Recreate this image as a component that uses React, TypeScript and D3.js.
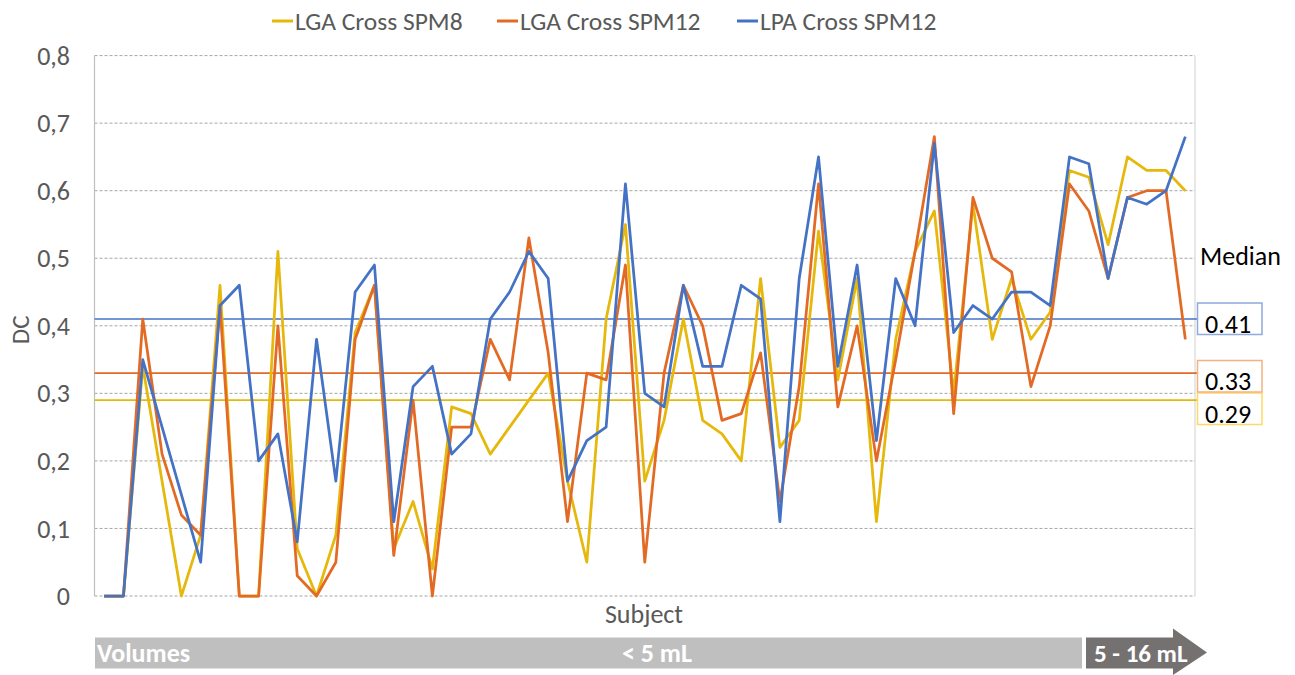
import React from "react";
import * as d3 from "d3";

const subjects: number[] = d3.range(57);
const seriesNames = ["LGA Cross SPM8", "LGA Cross SPM12", "LPA Cross SPM12"];
const seriesColors = ["#E5B80B", "#E36A24", "#4472C4"];
const boxColors = ["#FFD966", "#F4B183", "#8EA9DB"];

const lgaSpm8: number[] = [
  0, 0, 0.34, 0.17, 0, 0.09, 0.46, 0, 0, 0.51, 0.07, 0, 0.09, 0.39, 0.46, 0.07, 0.14, 0.04, 0.28, 0.27,
  0.21, 0.25, 0.29, 0.33, 0.17, 0.05, 0.41, 0.55, 0.17, 0.26, 0.41, 0.26, 0.24, 0.2, 0.47, 0.22, 0.26, 0.54,
  0.32, 0.47, 0.11, 0.38, 0.51, 0.57, 0.3, 0.58, 0.38, 0.47, 0.38, 0.42, 0.63, 0.62, 0.52, 0.65, 0.63, 0.63, 0.6,
];
const lgaSpm12: number[] = [
  0, 0, 0.41, 0.21, 0.12, 0.09, 0.43, 0, 0, 0.4, 0.03, 0, 0.05, 0.38, 0.46, 0.06, 0.29, 0, 0.25, 0.25,
  0.38, 0.32, 0.53, 0.36, 0.11, 0.33, 0.32, 0.49, 0.05, 0.33, 0.46, 0.4, 0.26, 0.27, 0.36, 0.14, 0.31, 0.61,
  0.28, 0.4, 0.2, 0.35, 0.51, 0.68, 0.27, 0.59, 0.5, 0.48, 0.31, 0.4, 0.61, 0.57, 0.47, 0.59, 0.6, 0.6, 0.38,
];
const lpaSpm12: number[] = [
  0, 0, 0.35, 0.25, 0.15, 0.05, 0.43, 0.46, 0.2, 0.24, 0.08, 0.38, 0.17, 0.45, 0.49, 0.11, 0.31, 0.34, 0.21, 0.24,
  0.41, 0.45, 0.51, 0.47, 0.17, 0.23, 0.25, 0.61, 0.3, 0.28, 0.46, 0.34, 0.34, 0.46, 0.44, 0.11, 0.47, 0.65,
  0.34, 0.49, 0.23, 0.47, 0.4, 0.67, 0.39, 0.43, 0.41, 0.45, 0.45, 0.43, 0.65, 0.64, 0.47, 0.59, 0.58, 0.6, 0.68,
];
const medians: number[] = [0.29, 0.33, 0.41];
const medianLabels = ["0.29", "0.33", "0.41"];
const yTicks: number[] = [0, 0.1, 0.2, 0.3, 0.4, 0.5, 0.6, 0.7, 0.8];
const yTickLabels = ["0", "0,1", "0,2", "0,3", "0,4", "0,5", "0,6", "0,7", "0,8"];

const FONT = "Carlito, Calibri, Lato, 'Open Sans', sans-serif";

export default function App() {
  const W = 1295;
  const H = 675;
  const left = 94.5;
  const right = 1195;
  const top = 55.6;
  const bottom = 596;

  const x = d3.scaleBand<number>().domain(subjects).range([left, right]);
  const cx = (i: number) => (x(i) as number) + x.bandwidth() / 2;
  const y = d3.scaleLinear().domain([0, 0.8]).range([bottom, top]);

  const allSeries = [lgaSpm8, lgaSpm12, lpaSpm12];
  const line = d3
    .line<number>()
    .x((_, i) => cx(i))
    .y((d) => y(d));

  const boxTops = [393, 360.5, 303];
  const boxH = 31.5;

  const legendX = [272, 497, 737];

  return (
    <svg
      width={W}
      height={H}
      style={{ position: "absolute", left: 0, top: 0, background: "#fff" }}
      fontFamily={FONT}
    >
      {yTicks.map((t) => (
        <line
          key={"g" + t}
          x1={left}
          x2={right}
          y1={y(t)}
          y2={y(t)}
          stroke="#A6A6A6"
          strokeWidth={1}
          strokeDasharray="3,2"
        />
      ))}
      <line x1={left} x2={left} y1={top} y2={bottom} stroke="#BFBFBF" strokeWidth={1.2} />
      <line x1={right} x2={right} y1={top} y2={bottom} stroke="#D0D0D0" strokeWidth={1} />

      {yTicks.map((t, i) => (
        <text
          key={"yl" + t}
          x={70}
          y={y(t)}
          dy="0.35em"
          textAnchor="end"
          fontSize={26}
          fill="#595959"
        >
          {yTickLabels[i]}
        </text>
      ))}
      <text
        transform={`translate(29,${(top + bottom) / 2 + 4}) rotate(-90)`}
        textAnchor="middle"
        fontSize={25}
        fill="#595959"
      >
        DC
      </text>
      <text x={644} y={614} dy="0.35em" textAnchor="middle" fontSize={26} fill="#595959">
        Subject
      </text>

      {medians.map((m, i) => (
        <line
          key={"m" + i}
          x1={left}
          x2={right + 2}
          y1={y(m)}
          y2={y(m)}
          stroke={seriesColors[i]}
          strokeWidth={1.6}
        />
      ))}

      {allSeries.map((s, i) => (
        <path
          key={"s" + i}
          d={line(s) || ""}
          fill="none"
          stroke={seriesColors[i]}
          strokeWidth={2.75}
          strokeLinejoin="round"
        />
      ))}

      <text x={1200} y={256} dy="0.35em" fontSize={26} fill="#000">
        Median
      </text>
      {medians.map((m, i) => (
        <g key={"b" + i}>
          <rect
            x={1197.5}
            y={boxTops[i]}
            width={64.5}
            height={boxH}
            fill="#fff"
            stroke={boxColors[i]}
            strokeWidth={1.5}
          />
          <text x={1205} y={boxTops[i] + boxH - 2} fontSize={26} fill="#000">
            {medianLabels[i]}
          </text>
        </g>
      ))}

      {seriesNames.map((n, i) => (
        <g key={"l" + i}>
          <line
            x1={legendX[i]}
            x2={legendX[i] + 21}
            y1={21}
            y2={21}
            stroke={seriesColors[i]}
            strokeWidth={3}
          />
          <text x={legendX[i] + 23} y={21} dy="0.35em" fontSize={25.5} fill="#595959">
            {n}
          </text>
        </g>
      ))}

      <rect x={95} y={637.5} width={987} height={31} fill="#BFBFBF" />
      <text x={97} y={653} dy="0.35em" fontSize={26} fontWeight={600} fill="#fff">
        Volumes
      </text>
      <text x={657} y={653} dy="0.35em" textAnchor="middle" fontSize={26} fontWeight={600} fill="#fff">
        {"< 5 mL"}
      </text>
      <path
        d="M1086,637.5 L1173,637.5 L1173,628.5 L1207,652.5 L1173,675 L1173,668.5 L1086,668.5 Z"
        fill="#767171"
      />
      <text x={1094} y={653} dy="0.35em" fontSize={25} fontWeight={700} fill="#fff">
        5 - 16 mL
      </text>
    </svg>
  );
}
